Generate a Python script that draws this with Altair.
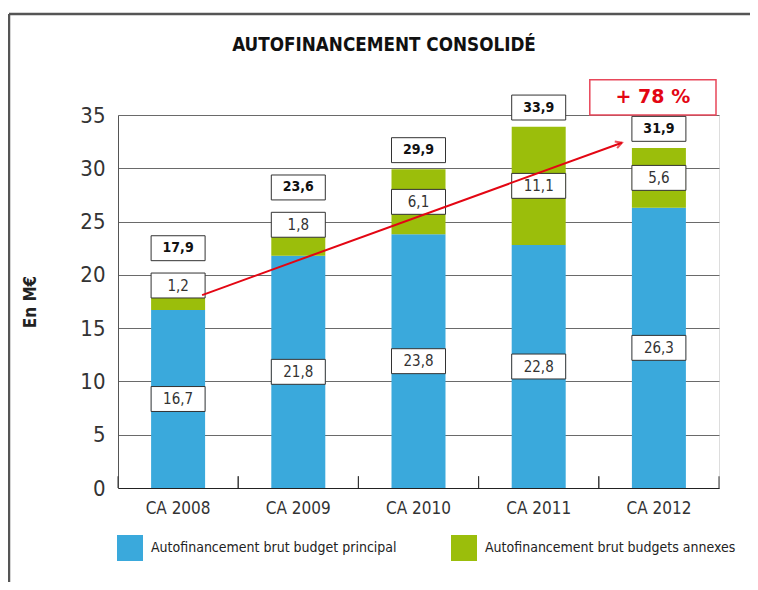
import altair as alt
import pandas as pd

years = ["CA 2008", "CA 2009", "CA 2010", "CA 2011", "CA 2012"]
principal = [16.7, 21.8, 23.8, 22.8, 26.3]
annexes = [1.2, 1.8, 6.1, 11.1, 5.6]
totals = [17.9, 23.6, 29.9, 33.9, 31.9]
series = ["Autofinancement brut budget principal", "Autofinancement brut budgets annexes"]
colors = ["#3aa9dc", "#9bbe0b"]
growth_label = "+ 78 %"
title_text = "AUTOFINANCEMENT CONSOLIDÉ"
y_ticks = [0, 5, 10, 15, 20, 25, 30, 35]

FONT = "Liberation Sans Narrow, DejaVu Sans Condensed, sans-serif"
W, H = 601, 373


def fr(v):
    return f"{v:.1f}".replace(".", ",")


rows = []
for i, yr in enumerate(years):
    rows.append(dict(year=yr, series=series[0], value=principal[i], order=0))
    rows.append(dict(year=yr, series=series[1], value=annexes[i], order=1))
bars_df = pd.DataFrame(rows)

HALF = 1.17
lab_rows = []
for i, yr in enumerate(years):
    p, a, t = principal[i], annexes[i], totals[i]
    yp = p / 2
    ya = t + 1.1 if a < 3 else p + a / 2
    yt = max(t + 1.8, ya + 3.5)
    lab_rows.append(dict(year=yr, pos=yp, text=fr(p), kind="seg"))
    lab_rows.append(dict(year=yr, pos=ya, text=fr(a), kind="seg"))
    lab_rows.append(dict(year=yr, pos=yt, text=fr(t), kind="total"))
labels_df = pd.DataFrame(lab_rows)
labels_df["lo"] = labels_df["pos"] - HALF
labels_df["hi"] = labels_df["pos"] + HALF

x_enc = alt.X("year:N", sort=years,
              scale=alt.Scale(paddingInner=0, paddingOuter=0),
              axis=alt.Axis(title=None, labelAngle=0, ticks=False, domainColor="#222",
                            labelFont=FONT, labelFontSize=17, labelColor="#333",
                            labelPadding=12, grid=False))
y_scale = alt.Scale(domain=[0, 35], nice=False)

bars = alt.Chart(bars_df).mark_bar(size=54).encode(
    x=x_enc,
    y=alt.Y("value:Q", stack="zero", scale=y_scale,
            axis=alt.Axis(values=y_ticks, title="En M€", grid=True, gridColor="#6a6a6a",
                          gridWidth=1, ticks=False, domainColor="#555",
                          labelFont=FONT, labelFontSize=22, labelColor="#333",
                          labelPadding=13, titleFont=FONT, titleFontSize=17,
                          titleFontWeight="bold", titleColor="#222", titlePadding=40)),
    color=alt.Color("series:N", scale=alt.Scale(domain=series, range=colors),
                    legend=alt.Legend(title=None, orient="none", legendX=-1, legendY=420,
                                      direction="horizontal", columns=2,
                                      symbolType="square", symbolSize=676,
                                      symbolStrokeWidth=0, labelFont=FONT,
                                      labelFontSize=14, labelColor="#222",
                                      labelLimit=500, labelOffset=8, columnPadding=54)),
    order=alt.Order("order:Q"),
)

seg_df = labels_df[labels_df.kind == "seg"]
tot_df = labels_df[labels_df.kind == "total"]

boxes = alt.Chart(labels_df).mark_bar(size=54, fill="white", stroke="#333",
                                      strokeWidth=1).encode(
    x=alt.X("year:N", sort=years), y="lo:Q", y2="hi:Q")

seg_text = alt.Chart(seg_df).mark_text(font=FONT, fontSize=15, color="#333").encode(
    x=alt.X("year:N", sort=years), y="pos:Q", text="text:N")
tot_text = alt.Chart(tot_df).mark_text(font=FONT, fontSize=14, fontWeight="bold",
                                       color="#111").encode(
    x=alt.X("year:N", sort=years), y="pos:Q", text="text:N")

# x-axis band separators (inward ticks)
tick_df = pd.DataFrame({"year": years})
ticks0 = alt.Chart(tick_df).mark_rule(color="#333", strokeWidth=1).encode(
    x=alt.X("year:N", sort=years, bandPosition=0), y=alt.datum(0), y2=alt.datum(1.1))
ticks1 = alt.Chart(tick_df).mark_rule(color="#333", strokeWidth=1).encode(
    x=alt.X("year:N", sort=years, bandPosition=1), y=alt.datum(0), y2=alt.datum(1.1))

# growth arrow
arrow_df = pd.DataFrame({"x1": [years[0]], "x2": [years[-1]],
                         "y1": [totals[0] + 0.2], "y2": [totals[-1] + 0.5]})
arrow = alt.Chart(arrow_df).mark_rule(color="#e30613", strokeWidth=2,
                                      xOffset=24, x2Offset=-37).encode(
    x=alt.X("x1:N", sort=years), x2="x2:N", y="y1:Q", y2="y2:Q")
head = alt.Chart(arrow_df).mark_point(shape="M-1,-0.55L0,0L-1,0.55", filled=False,
                                      stroke="#e30613", strokeWidth=2, size=160,
                                      angle=340, xOffset=-37).encode(
    x=alt.X("x2:N", sort=years), y="y2:Q")

# "+ 78 %" annotation
growth_df = pd.DataFrame({"year": [years[-1]], "lo": [35.0], "hi": [38.3],
                          "mid": [36.65], "text": [growth_label]})
growth_box = alt.Chart(growth_df).mark_rect(fill="white", stroke="#e8475a",
                                            strokeWidth=1.5, xOffset=-9).encode(
    x=alt.X("year:N", sort=years, bandPosition=0), x2=alt.value(W - 3),
    y="lo:Q", y2="hi:Q")
growth_text = alt.Chart(growth_df).mark_text(font="DejaVu Sans", fontSize=19,
                                             fontWeight="bold", color="#e30613",
                                             dx=-6).encode(
    x=alt.X("year:N", sort=years), y="mid:Q", text="text:N")

# page frame and title
one = pd.DataFrame({"t": [title_text]})
frame_top = alt.Chart(one).mark_rule(color="#555", strokeWidth=2.5).encode(
    x=alt.value(-109), x2=alt.value(W + 60), y=alt.value(-101))
frame_left = alt.Chart(one).mark_rule(color="#555", strokeWidth=2.5).encode(
    x=alt.value(-109), y=alt.value(-101), y2=alt.value(H + 110))
title = alt.Chart(one).mark_text(font=FONT, fontSize=18.7, fontWeight="bold",
                                 color="#111").encode(
    x=alt.value(266), y=alt.value(-70), text="t:N")

chart = alt.layer(
    frame_top, frame_left, title,
    bars, ticks0, ticks1, boxes, seg_text, tot_text,
    arrow, head, growth_box, growth_text,
).properties(
    width=W, height=H,
    autosize=alt.AutoSizeParams(type="none"),
    padding={"left": 110, "top": 107, "right": 31, "bottom": 94},
).configure_view(stroke=None).configure(background="white")

chart.save("out.html", embed_options={"renderer": "svg", "actions": False})
